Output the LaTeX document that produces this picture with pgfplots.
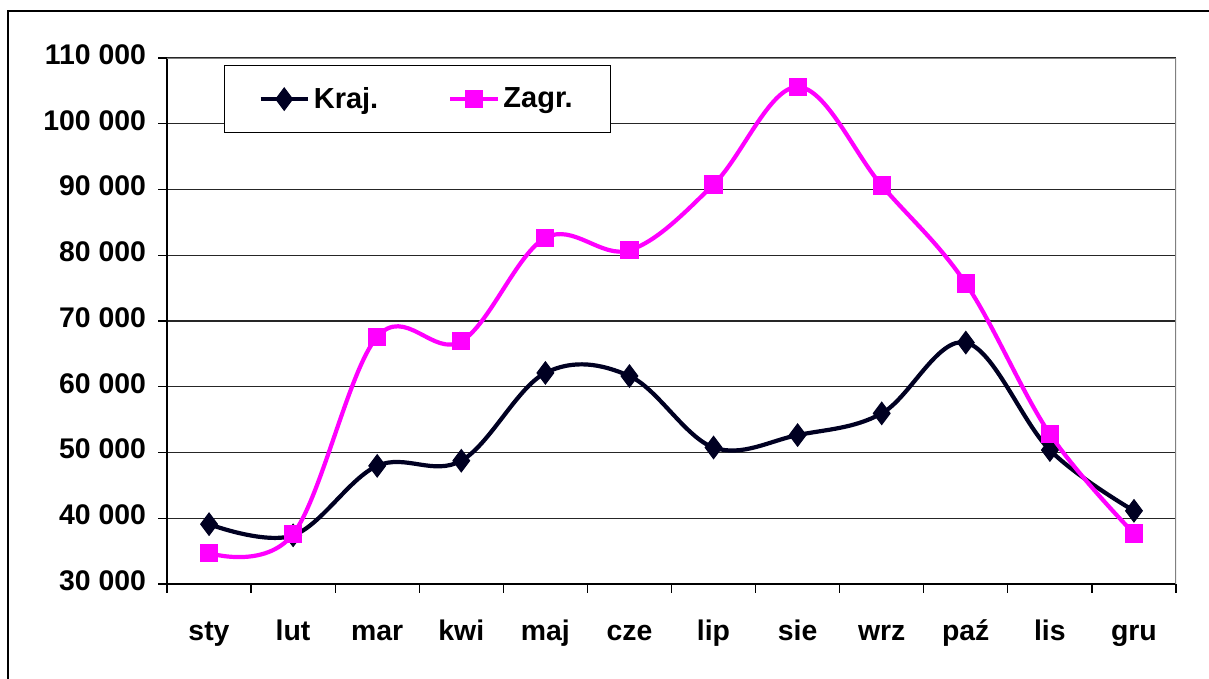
\documentclass[border=0pt]{standalone}
\usepackage{fontspec}
\setmainfont{Liberation Sans}
\usepackage{pgfplots}
\pgfplotsset{compat=1.18}
\definecolor{kraj}{HTML}{000022}
\definecolor{zagr}{HTML}{FF00FF}
\begin{document}
\begin{tikzpicture}
\useasboundingbox (0,0) rectangle (604.5pt,339.5pt);
\draw[line width=0.6pt] (4pt,0pt) -- (4pt,334pt) -- (604.5pt,334pt);
\begin{axis}[
  at={(83.5pt,47.5pt)}, anchor=south west,
  scale only axis, width=504.5pt, height=263pt,
  xmin=-0.5, xmax=11.5, ymin=30000, ymax=110000,
  scaled y ticks=false,
  axis x line*=bottom, axis y line*=left,
  axis line style={line width=0.6pt, black},
  xtick={-0.5,0.5,1.5,2.5,3.5,4.5,5.5,6.5,7.5,8.5,9.5,10.5,11.5},
  xticklabels={sty,lut,mar,kwi,maj,cze,lip,sie,wrz,pa{\'z},lis,gru,{}},
  typeset ticklabels with strut,
  xticklabel style={xshift=21pt, yshift=-9pt},
  ytick={30000,40000,50000,60000,70000,80000,90000,100000,110000},
  yticklabels={30 000,40 000,50 000,60 000,70 000,80 000,90 000,100 000,110 000},
  yticklabel style={xshift=-2.5pt},
  tick align=outside, major tick length=4.5pt,
  tick style={line width=0.6pt, black},
  ymajorgrids, grid style={line width=0.6pt, black!85},
  ticklabel style={font=\fontsize{14.2}{16}\selectfont\bfseries},
  legend columns=2,
  legend style={at={(0.0565,0.9867)}, anchor=north west, draw=black, line width=0.6pt,
    font=\fontsize{14.5}{16}\selectfont\bfseries, inner xsep=17pt, inner ysep=8.75pt,
    /tikz/every even column/.append style={column sep=33pt}},
  legend image code/.code={\draw[mark repeat=2,mark phase=2] plot coordinates {(0pt,0pt) (11.75pt,0pt) (23.5pt,0pt)};},
]
\addplot[kraj, line width=2.1pt, smooth, tension=0.6, mark=diamond*, mark size=5.6pt, mark options={solid, line width=0.5pt}]
  coordinates {(0,39100) (1,37400) (2,47970) (3,48750) (4,62100) (5,61630) (6,50760) (7,52650) (8,55950) (9,66720) (10,50370) (11,41130)};
\addlegendentry{Kraj.}
\addplot[zagr, line width=2.1pt, smooth, tension=0.6, mark=square*, mark size=4.3pt, mark options={solid, line width=0.5pt}]
  coordinates {(0,34700) (1,37600) (2,67600) (3,66900) (4,82650) (5,80760) (6,90760) (7,105600) (8,90610) (9,75700) (10,52800) (11,37680)};
\addlegendentry{Zagr.}
\draw[gray, line width=0.6pt] (rel axis cs:0,1) -- (rel axis cs:1,1) -- (rel axis cs:1,0);
\end{axis}
\end{tikzpicture}
\end{document}
